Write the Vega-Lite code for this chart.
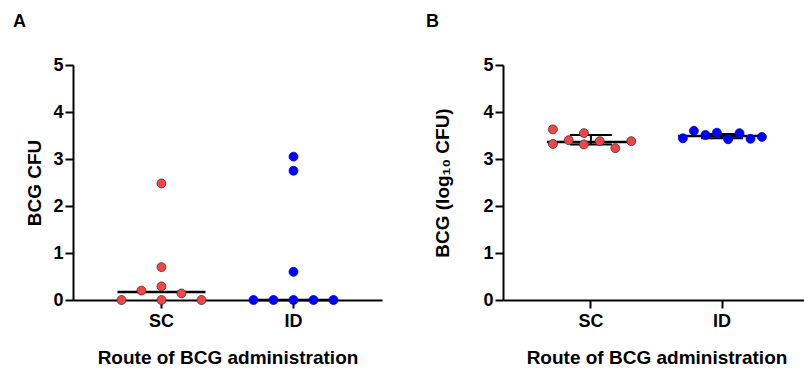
{
  "$schema": "https://vega.github.io/schema/vega-lite/v6.json",
  "padding": {"left": 12, "top": 13, "right": 0, "bottom": 0},
  "background": "white",
  "spacing": 121,
  "bounds": "flush",
  "datasets": {
    "cfu": [
      {"route": "SC", "value": 2.48, "jitter": 0},
      {"route": "SC", "value": 0.70, "jitter": 0},
      {"route": "SC", "value": 0.29, "jitter": 0},
      {"route": "SC", "value": 0.20, "jitter": -1},
      {"route": "SC", "value": 0.14, "jitter": 1},
      {"route": "SC", "value": 0, "jitter": -2},
      {"route": "SC", "value": 0, "jitter": 0},
      {"route": "SC", "value": 0, "jitter": 2},
      {"route": "ID", "value": 3.05, "jitter": 0},
      {"route": "ID", "value": 2.75, "jitter": 0},
      {"route": "ID", "value": 0.60, "jitter": 0},
      {"route": "ID", "value": 0, "jitter": -2},
      {"route": "ID", "value": 0, "jitter": -1},
      {"route": "ID", "value": 0, "jitter": 0},
      {"route": "ID", "value": 0, "jitter": 1},
      {"route": "ID", "value": 0, "jitter": 2}
    ],
    "cfuSummary": [
      {"route": "SC", "median": 0.17},
      {"route": "ID", "median": 0}
    ],
    "log": [
      {"route": "SC", "value": 3.63, "jitter": -1.92},
      {"route": "SC", "value": 3.32, "jitter": -1.92},
      {"route": "SC", "value": 3.40, "jitter": -1.13},
      {"route": "SC", "value": 3.55, "jitter": -0.37},
      {"route": "SC", "value": 3.31, "jitter": -0.37},
      {"route": "SC", "value": 3.38, "jitter": 0.42},
      {"route": "SC", "value": 3.23, "jitter": 1.2},
      {"route": "SC", "value": 3.38, "jitter": 2.0},
      {"route": "ID", "value": 3.44, "jitter": -1.98},
      {"route": "ID", "value": 3.60, "jitter": -1.43},
      {"route": "ID", "value": 3.51, "jitter": -0.85},
      {"route": "ID", "value": 3.56, "jitter": -0.28},
      {"route": "ID", "value": 3.42, "jitter": 0.28},
      {"route": "ID", "value": 3.55, "jitter": 0.85},
      {"route": "ID", "value": 3.43, "jitter": 1.4},
      {"route": "ID", "value": 3.47, "jitter": 1.97}
    ],
    "logSummary": [
      {"route": "SC", "median": 3.36, "q1": 3.31, "q3": 3.51},
      {"route": "ID", "median": 3.49, "q1": 3.44, "q3": 3.53}
    ]
  },
  "config": {
    "font": "Liberation Sans",
    "view": {"stroke": null},
    "scale": {"bandPaddingInner": 0, "bandPaddingOuter": 0.17},
    "axis": {
      "grid": false,
      "domainColor": "black",
      "domainWidth": 2,
      "tickColor": "black",
      "tickWidth": 2,
      "tickSize": 8,
      "labelFont": "Liberation Sans",
      "labelFontSize": 18,
      "labelFontWeight": "bold",
      "labelColor": "black",
      "titleFont": "Liberation Sans",
      "titleFontSize": 19,
      "titleFontWeight": "bold",
      "titleColor": "black"
    },
    "title": {"font": "Liberation Sans", "fontSize": 18, "fontWeight": "bold", "color": "black"}
  },
  "hconcat": [
    {
      "width": 309,
      "height": 235,
      "title": {"text": "A", "anchor": "start", "frame": "bounds", "offset": 25, "dx": -13},
      "encoding": {
        "x": {"field": "route", "type": "nominal", "sort": ["SC", "ID"],
              "axis": {"title": "Route of BCG administration", "labelAngle": 0, "labelPadding": 4, "titlePadding": 18}}
      },
      "layer": [
        {
          "data": {"name": "cfuSummary"},
          "mark": {"type": "tick", "orient": "horizontal", "size": 88, "thickness": 2.5, "color": "black", "opacity": 1},
          "encoding": {
            "y": {"field": "median", "type": "quantitative", "scale": {"domain": [0, 5]},
                  "axis": {"title": "BCG CFU", "values": [0, 1, 2, 3, 4, 5], "labelPadding": 2, "titlePadding": 8}}
          }
        },
        {
          "data": {"name": "cfu"},
          "mark": {"type": "circle", "size": 80, "opacity": 1, "strokeWidth": 0.8},
          "encoding": {
            "y": {"field": "value", "type": "quantitative"},
            "xOffset": {"field": "jitter", "type": "quantitative", "scale": {"domain": [-3.3, 3.3], "range": [0, 132]}},
            "color": {"field": "route", "type": "nominal", "scale": {"domain": ["SC", "ID"], "range": ["#f04646", "#0000ff"]}, "legend": null},
            "stroke": {"field": "route", "type": "nominal", "scale": {"domain": ["SC", "ID"], "range": ["#4a3030", "#0000e0"]}, "legend": null}
          }
        }
      ]
    },
    {
      "width": 307,
      "height": 235,
      "title": {"text": "B", "anchor": "start", "frame": "bounds", "offset": 25, "dx": -8},
      "encoding": {
        "x": {"field": "route", "type": "nominal", "sort": ["SC", "ID"],
              "axis": {"title": "Route of BCG administration", "labelAngle": 0, "labelPadding": 4, "titlePadding": 18}}
      },
      "layer": [
        {
          "data": {"name": "logSummary"},
          "mark": {"type": "rule", "color": "black", "strokeWidth": 2},
          "encoding": {
            "y": {"field": "q1", "type": "quantitative", "scale": {"domain": [0, 5]},
                  "axis": {"title": "BCG (log₁₀ CFU)", "values": [0, 1, 2, 3, 4, 5], "labelPadding": 2, "titlePadding": 30}},
            "y2": {"field": "q3"}
          }
        },
        {
          "data": {"name": "logSummary"},
          "mark": {"type": "tick", "orient": "horizontal", "size": 42, "thickness": 2, "color": "black", "opacity": 1},
          "encoding": {"y": {"field": "q1", "type": "quantitative"}}
        },
        {
          "data": {"name": "logSummary"},
          "mark": {"type": "tick", "orient": "horizontal", "size": 42, "thickness": 2, "color": "black", "opacity": 1},
          "encoding": {"y": {"field": "q3", "type": "quantitative"}}
        },
        {
          "data": {"name": "logSummary"},
          "mark": {"type": "tick", "orient": "horizontal", "size": 88, "thickness": 2.5, "color": "black", "opacity": 1},
          "encoding": {"y": {"field": "median", "type": "quantitative"}}
        },
        {
          "data": {"name": "log"},
          "mark": {"type": "circle", "size": 80, "opacity": 1, "strokeWidth": 0.8},
          "encoding": {
            "y": {"field": "value", "type": "quantitative"},
            "xOffset": {"field": "jitter", "type": "quantitative", "scale": {"domain": [-3.3, 3.3], "range": [0, 132]}},
            "color": {"field": "route", "type": "nominal", "scale": {"domain": ["SC", "ID"], "range": ["#f04646", "#0000ff"]}, "legend": null},
            "stroke": {"field": "route", "type": "nominal", "scale": {"domain": ["SC", "ID"], "range": ["#4a3030", "#0000e0"]}, "legend": null}
          }
        }
      ]
    }
  ]
}
